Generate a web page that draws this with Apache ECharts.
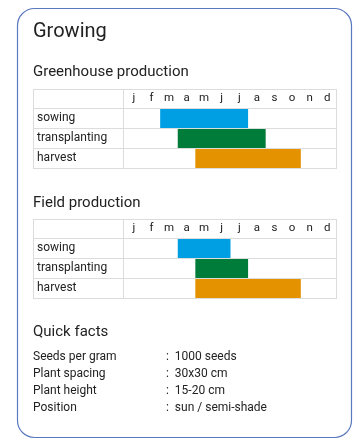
<!DOCTYPE html>
<html>
<head>
<meta charset="utf-8">
<title>Growing</title>
<script src="https://cdn.jsdelivr.net/npm/echarts@6/dist/echarts.min.js"></script>
</head>
<body style="margin:0;background:#fff;">
<div id="main" style="width:358px;height:444px;"></div>
<script type="text/javascript">
// months (table header) and rows
var months = ['j', 'f', 'm', 'a', 'm', 'j', 'j', 'a', 's', 'o', 'n', 'd'];
var stages = ['sowing', 'transplanting', 'harvest'];
var stageColors = ['#009fe3', '#007c3a', '#e59200'];

// [stage index, first month index, last month index]
var greenhouse = [[0, 2, 6], [1, 3, 7], [2, 4, 9]];
var field = [[0, 3, 5], [1, 4, 6], [2, 4, 9]];

var factLabels = ['Seeds per gram', 'Plant spacing', 'Plant height', 'Position'];
var factValues = ['1000 seeds', '30x30 cm', '15-20 cm', 'sun / semi-shade'];

var font = 'Roboto, "Noto Sans", sans-serif';
var textColor = '#222';
var lineColor = '#dcdcdc';

// table layout
var tabLeft = 33, tabRight = 336, labelColRight = 123, gridLeft = 125;
var tables = [{ top: 89, head: 19, title: 'Greenhouse production', titleY: 72, data: greenhouse },
              { top: 219, head: 19, title: 'Field production', titleY: 203, data: field }];
var rowH = 20;

var myChart = echarts.init(document.getElementById('main'));

var graphic = [{
  type: 'rect', z: 0,
  shape: { x: 17.5, y: 8.5, width: 334, height: 429, r: 17 },
  style: { fill: '#fff', stroke: '#5a78bd', lineWidth: 1.2 }
}, {
  type: 'text', x: 33, y: 32,
  style: { text: 'Growing', font: '20px ' + font, fill: textColor, verticalAlign: 'middle' }
}];

function hline(y, x1, x2) {
  graphic.push({ type: 'line', z: 1, shape: { x1: x1, y1: y + 0.5, x2: x2, y2: y + 0.5 },
    style: { stroke: lineColor, lineWidth: 1 } });
}
function vline(x, y1, y2) {
  graphic.push({ type: 'line', z: 1, shape: { x1: x + 0.5, y1: y1, x2: x + 0.5, y2: y2 },
    style: { stroke: lineColor, lineWidth: 1 } });
}

var grids = [], xAxes = [], yAxes = [], series = [];
tables.forEach(function (t, i) {
  var bodyTop = t.top + t.head;
  var bottom = bodyTop + rowH * stages.length;
  graphic.push({ type: 'text', x: 33, y: t.titleY,
    style: { text: t.title, font: '15px ' + font, fill: textColor, verticalAlign: 'middle' } });
  hline(t.top, tabLeft, tabRight + 1);
  for (var r = 0; r <= stages.length; r++) hline(bodyTop + r * rowH, tabLeft, tabRight + 1);
  vline(tabLeft, t.top, bottom + 1);
  vline(labelColRight, t.top, bottom + 1);
  vline(tabRight, t.top, bottom + 1);

  grids.push({ left: gridLeft, top: bodyTop, width: tabRight - gridLeft, height: rowH * stages.length });
  xAxes.push({
    gridIndex: i, type: 'category', data: months, position: 'top',
    axisLine: { show: false }, axisTick: { show: false }, splitLine: { show: false },
    axisLabel: { interval: 0, margin: 10, verticalAlign: 'middle', color: textColor,
      fontFamily: font, fontSize: 11.5 }
  });
  yAxes.push({
    gridIndex: i, type: 'category', data: stages, inverse: true,
    axisLine: { show: false }, axisTick: { show: false }, splitLine: { show: false },
    axisLabel: { align: 'left', margin: gridLeft - 37, color: textColor, fontFamily: font, fontSize: 12 }
  });
  series.push({
    type: 'custom', xAxisIndex: i, yAxisIndex: i,
    data: t.data,
    renderItem: function (params, api) {
      var row = api.value(0);
      var a = api.coord([api.value(1), row]);
      var b = api.coord([api.value(2), row]);
      var bw = api.size([1, 0])[0];
      var bh = api.size([0, 1])[1];
      return {
        type: 'rect',
        shape: { x: a[0] - bw / 2, y: a[1] - bh / 2 + 1, width: b[0] - a[0] + bw, height: bh - 1 },
        style: { fill: stageColors[row] }
      };
    }
  });
});

// quick facts
graphic.push({ type: 'text', x: 33, y: 332,
  style: { text: 'Quick facts', font: '15px ' + font, fill: textColor, verticalAlign: 'middle' } });
factLabels.forEach(function (label, k) {
  var y = 357 + k * 17;
  graphic.push({ type: 'text', x: 33, y: y,
    style: { text: label, font: '12px ' + font, fill: textColor, verticalAlign: 'middle' } });
  graphic.push({ type: 'text', x: 166, y: y,
    style: { text: ':  ' + factValues[k], font: '12px ' + font, fill: textColor, verticalAlign: 'middle' } });
});

myChart.setOption({
  animation: false,
  graphic: graphic,
  grid: grids,
  xAxis: xAxes,
  yAxis: yAxes,
  series: series
});
</script>
</body>
</html>
